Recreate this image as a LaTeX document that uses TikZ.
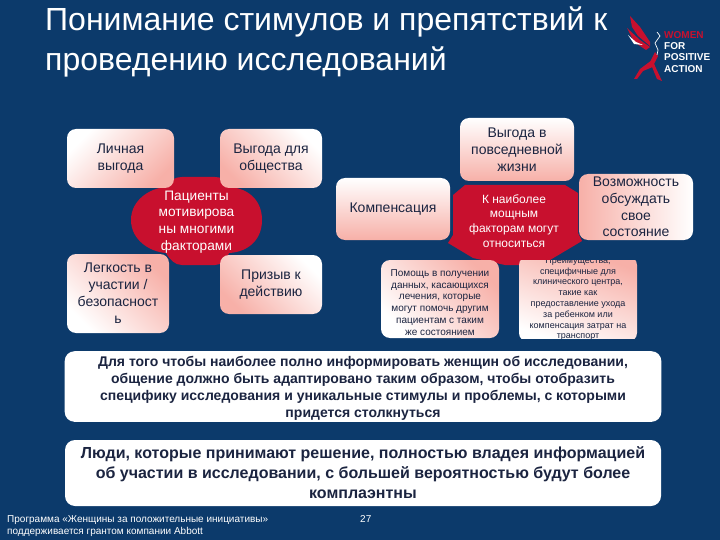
\documentclass[tikz,border=0pt]{standalone}
\usepackage{fontspec}
\setmainfont{Liberation Sans}
\usepackage{xcolor}
\usetikzlibrary{positioning}
\definecolor{SlideNavy}{HTML}{0C3A6B}
\definecolor{SlideRed}{HTML}{C8102E}
\definecolor{SlidePink}{HTML}{F7B0A8}
\definecolor{SlideInk}{HTML}{1B2440}
\tikzset{
  card/.style={rounded corners=9pt, align=center, inner sep=1pt, text=SlideInk,
               font=\fontsize{14}{17}\selectfont},
  cardTo/.style={card, left color=white, middle color=white, right color=SlidePink, shading angle=#1},
  cardDown/.style={card, top color=white, bottom color=SlidePink},
  cardLeft/.style={card, left color=SlidePink, right color=white},
  band/.style={rounded corners=10pt, fill=white, align=center, text=SlideInk,
               font=\fontsize{14}{16.9}\selectfont\bfseries},
  hub/.style={fill=SlideRed, draw=none},
  hubtext/.style={align=center, text=white, inner sep=0pt},
  plain/.style={align=left, text=white, inner sep=0pt, anchor=north west}
}
\begin{document}
\begin{tikzpicture}[x=1pt, y=-1pt]
  \useasboundingbox (0,0) rectangle (720,540);
  \fill[SlideNavy] (0,0) rectangle (720,540);
  % heading
  \node[plain, font=\fontsize{32}{40}\selectfont] (heading) at (45,7)
    {Понимание стимулов и препятствий к\\проведению исследований};
  % logo
  \fill[SlideRed] (630,16) -- (640,27) -- (650,42) -- (650,46) -- (638,36) -- (632,27) -- cycle;
  \fill[SlideRed] (627,28) -- (640,40) -- (650,47) -- (646,50) -- (634,42) -- cycle;
  \fill[white] (628,35) -- (636,42) -- (643,45) -- (634,44) -- cycle;
  \fill[SlideRed] (655,52) -- (650,62) -- (657,79) -- (662,81) -- (654,64) -- (658,56) -- cycle;
  \fill[SlideRed] (652,60) -- (640,69) -- (634,79) -- (637,79) -- (643,71) -- (655,66) -- cycle;
  \draw[white, line width=.7pt] (657,32) -- (660,36) -- (655,43) -- (658,50) -- (657,55);
  \node[plain, font=\fontsize{10}{11.4}\selectfont\bfseries] (logotext) at (664,31)
    {\textcolor{SlideRed}{WOMEN}\\FOR\\POSITIVE\\ACTION};
  % left group
  \fill[hub] (131,220) .. controls (131,200) and (150,188) .. (166,187)
    .. controls (170,180) and (175,177) .. (182,177) -- (215,177)
    .. controls (222,177) and (226,180) .. (229,187) .. controls (248,188) and (262,200) .. (262,220)
    .. controls (262,240) and (248,252) .. (229,253) .. controls (226,260) and (222,265) .. (215,265)
    -- (182,265) .. controls (175,265) and (170,260) .. (166,253)
    .. controls (150,252) and (131,240) .. (131,220) -- cycle;
  \node[cardTo=45, minimum width=107pt, minimum height=59pt] (personal) at (120.5,158.5) {Личная\\выгода};
  \node[cardTo=-45, minimum width=102pt, minimum height=59pt] (society) at (271,158.5) {Выгода для\\общества};
  \node[cardTo=135, minimum width=102pt, minimum height=79pt] (ease) at (118,293.5)
    {Легкость в\\участии /\\безопасност\\ь};
  \node[cardTo=-45, minimum width=102pt, minimum height=59pt] (action) at (271,284.5) {Призыв к\\действию};
  \node[hubtext, font=\fontsize{13.7}{16.7}\selectfont] (patients) at (196.5,222)
    {Пациенты\\мотивирова\\ны многими\\факторами};
  % right group
  \fill[hub] (465,185) -- (565,185) -- (578,193) -- (578,233) -- (582,241) -- (550,260)
    -- (540,265) -- (505,265) -- (473,258) -- (448,243) -- (453,235) -- (453,195) -- cycle;
  \node[cardDown, minimum width=114pt, minimum height=62pt] (comp) at (393,209) {Компенсация};
  \node[cardDown, minimum width=114pt, minimum height=63pt] (daily) at (517,149.5) {Выгода в\\повседневной\\жизни};
  \node[cardLeft, minimum width=114pt, minimum height=66pt, font=\fontsize{14}{16.7}\selectfont] (discuss) at (636,207)
    {Возможность\\обсуждать\\свое\\состояние};
  \node[cardTo=135, minimum width=118pt, minimum height=78pt, font=\fontsize{10}{11.9}\selectfont] (help) at (440,299)
    {\raisebox{-6pt}[36pt][36pt]{\parbox{110pt}{\centering Помощь в получении\\данных, касающихся\\лечения, которые\\могут помочь другим\\пациентам с таким\\же состоянием}}};
  \begin{scope}
    \clip (515,260) rectangle (640,338);
    \node[cardTo=160, minimum width=118pt, minimum height=78pt, font=\fontsize{9}{10.8}\selectfont] (site) at (578,299)
      {Преимущества,\\специфичные для\\клинического центра,\\такие как\\предоставление ухода\\за ребенком или\\компенсация затрат на\\транспорт};
  \end{scope}
  \node[hubtext, font=\fontsize{12}{14.7}\selectfont] (strong) at (514,221)
    {К наиболее\\мощным\\факторам могут\\относиться};
  % bands
  \node[band, minimum width=596pt, minimum height=69pt] (inform) at (363,386.5)
    {\raisebox{-5.5pt}[32pt][32pt]{\parbox{590pt}{\centering Для того чтобы наиболее полно информировать женщин об исследовании,\\общение должно быть адаптировано таким образом, чтобы отобразить\\специфику исследования и уникальные стимулы и проблемы, с которыми\\придется столкнуться}}};
  \node[band, minimum width=596pt, minimum height=66pt, font=\fontsize{16}{20}\selectfont\bfseries] (people) at (363,473)
    {Люди, которые принимают решение, полностью владея информацией\\об участии в исследовании, с большей вероятностью будут более\\комплаэнтны};
  % footer
  \node[plain, font=\fontsize{10}{12}\selectfont] (sponsor) at (7,515)
    {Программа «Женщины за положительные инициативы»\\поддерживается грантом компании Abbott};
  \node[plain, font=\fontsize{10}{12}\selectfont] (pageno) at (360,515) {27};
\end{tikzpicture}
\end{document}
